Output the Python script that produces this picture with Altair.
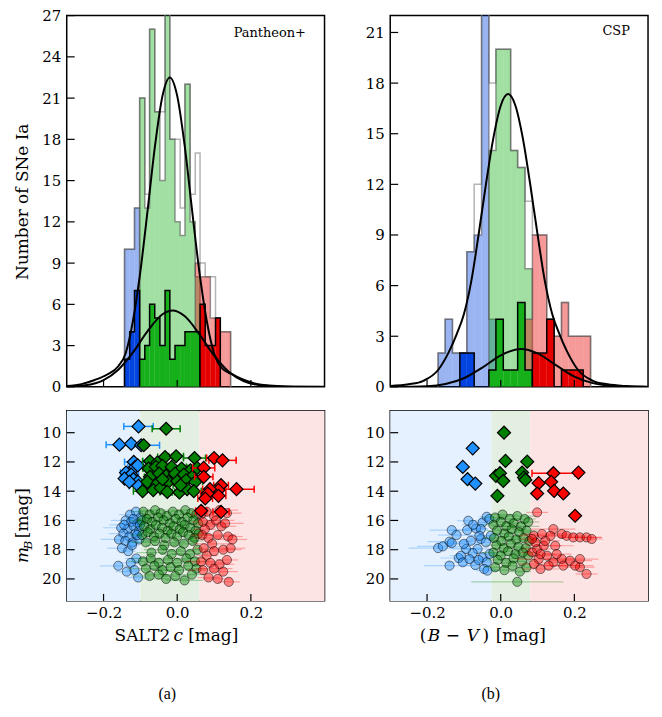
import altair as alt
import pandas as pd

SERIF = "DejaVu Serif"
CAPFONT = "Liberation Serif"

# ---------------- axes ----------------
X_DOMAIN = [-0.3, 0.4]
X_TICKS = [-0.2, 0.0, 0.2]
TOP_L_YDOM = [0, 27]
TOP_R_YDOM = [0, 22]
TOP_L_YTICKS = [0, 3, 6, 9, 12, 15, 18, 21, 24, 27]
TOP_R_YTICKS = [0, 3, 6, 9, 12, 15, 18, 21]
BOT_YDOM = [8.5, 21.5]
BOT_YTICKS = [10, 12, 14, 16, 18, 20]

# ---------------- histograms: Pantheon+ (SALT2 c) ----------------
L_EDGES = [-0.143, -0.129, -0.116, -0.102, -0.088, -0.075, -0.061, -0.047, -0.033, -0.020, -0.006,
           0.008, 0.021, 0.035, 0.049, 0.062, 0.076, 0.090, 0.104, 0.117, 0.131, 0.145]
L_TOTAL = [10, 10, 13, 21, 14, 26, 20, 20, 29, 18, 18, 13, 22, 14, 17, 9, 8, 8, 5, 4, 4]
L_BLUE_ALL = [10, 10, 13, 0, 0, 0, 0, 0, 0, 0, 0, 0, 0, 0, 0, 0, 0, 0, 0, 0, 0]
L_GREEN_ALL = [0, 0, 0, 21, 13, 26, 20, 15, 29, 18, 12, 11, 22, 12, 8, 0, 0, 0, 0, 0, 0]
L_RED_ALL = [0, 0, 0, 0, 0, 0, 0, 0, 0, 0, 0, 0, 0, 0, 9, 8, 8, 5, 5, 4, 4]
L_BLUE_CAL = [2, 4, 7, 0, 0, 0, 0, 0, 0, 0, 0, 0, 0, 0, 0, 0, 0, 0, 0, 0, 0]
L_GREEN_CAL = [0, 0, 0, 2, 3, 6, 5, 3, 7, 2, 3, 3, 4, 4, 4, 0, 0, 0, 0, 0, 0]
L_RED_CAL = [0, 0, 0, 0, 0, 0, 0, 0, 0, 0, 0, 0, 0, 0, 0, 6, 3, 3, 5, 0, 0]

# ---------------- histograms: CSP (B-V) ----------------
R_EDGES = [-0.170, -0.151, -0.131, -0.111, -0.092, -0.072, -0.052, -0.032, -0.013, 0.007, 0.027,
           0.046, 0.066, 0.086, 0.106, 0.125, 0.145, 0.165, 0.184, 0.204, 0.224, 0.244]
R_TOTAL = [2, 4, 2, 2, 8, 12, 24, 18, 20, 20, 14, 13, 11, 9, 9, 4, 3, 5, 3, 3, 3]
R_BLUE_ALL = [2, 4, 2, 2, 8, 9, 24, 4, 0, 0, 0, 0, 0, 0, 0, 0, 0, 0, 0, 0, 0]
R_GREEN_ALL = [0, 0, 0, 0, 0, 0, 0, 14, 20, 20, 14, 13, 7, 0, 0, 0, 0, 0, 0, 0, 0]
R_RED_ALL = [0, 0, 0, 0, 0, 0, 0, 0, 0, 0, 0, 0, 4, 9, 9, 4, 3, 5, 3, 3, 3]
R_BLUE_CAL = [0, 0, 0, 2, 2, 0, 0, 0, 0, 0, 0, 0, 0, 0, 0, 0, 0, 0, 0, 0, 0]
R_GREEN_CAL = [0, 0, 0, 0, 0, 0, 0, 1, 4, 1, 1, 5, 1, 0, 0, 0, 0, 0, 0, 0, 0]
R_RED_CAL = [0, 0, 0, 0, 0, 0, 0, 0, 0, 0, 0, 0, 0, 2, 2, 4, 0, 1, 1, 1, 0]

# ---------------- fitted curves ----------------
L_BIG_C = [-0.30, -0.26, -0.224, -0.19, -0.16, -0.14, -0.12, -0.10, -0.08, -0.06, -0.04, -0.02, 0.0,
           0.02, 0.04, 0.06, 0.08, 0.10, 0.12, 0.15, 0.175, 0.21, 0.25, 0.30, 0.40]
L_BIG_N = [0.06, 0.2, 0.5, 0.9, 1.5, 2.45, 4.83, 8.40, 12.93, 17.59, 21.16, 22.5, 21.16,
           17.59, 12.93, 8.40, 4.83, 2.45, 1.4, 0.9, 0.57, 0.25, 0.1, 0.03, 0.0]
L_SMALL_C = [-0.30, -0.25, -0.20, -0.16, -0.12, -0.08, -0.04, -0.013, 0.02, 0.06, 0.10, 0.14, 0.18, 0.22, 0.28, 0.40]
L_SMALL_N = [0.02, 0.11, 0.49, 1.25, 2.51, 4.07, 5.28, 5.55, 5.15, 3.84, 2.29, 1.10, 0.42, 0.13, 0.015, 0.0]
R_BIG_C = [-0.30, -0.25, -0.21, -0.17, -0.14, -0.12, -0.10, -0.08, -0.06, -0.04, -0.02, 0.0, 0.02,
           0.04, 0.06, 0.08, 0.10, 0.12, 0.14, 0.16, 0.18, 0.21, 0.25, 0.29, 0.34, 0.40]
R_BIG_N = [0.05, 0.15, 0.36, 1.0, 2.1, 3.1, 4.3, 6.25, 9.03, 12.02, 14.74, 16.66, 17.35,
           16.66, 14.74, 12.02, 9.03, 6.25, 4.3, 3.1, 2.1, 1.0, 0.36, 0.15, 0.05, 0.01]
R_SMALL_C = [-0.30, -0.20, -0.15, -0.10, -0.05, 0.0, 0.055, 0.10, 0.15, 0.20, 0.25, 0.30, 0.35, 0.40]
R_SMALL_N = [0.0, 0.04, 0.17, 0.51, 1.14, 1.87, 2.25, 1.99, 1.29, 0.61, 0.22, 0.06, 0.01, 0.0]

# ---------------- colour-cut bands ----------------
L_BANDS = [-0.3, -0.1, 0.06, 0.4]
R_BANDS = [-0.3, -0.025, 0.08, 0.4]

# ---------------- calibrator diamonds (c, m_B, err) ----------------
L_DIA_BLUE_C = [-0.105, -0.157, -0.125, -0.098, -0.118, -0.114, -0.107, -0.139, -0.125, -0.143, -0.119, -0.107, -0.105, -0.130]
L_DIA_BLUE_M = [9.57, 10.82, 10.75, 10.86, 12.0, 12.34, 12.23, 12.73, 12.86, 13.14, 13.18, 13.36, 13.64, 13.36]
L_DIA_BLUE_E = [0.040, 0.036, 0.010, 0.050, 0.025, 0.020, 0.015, 0.015, 0.020, 0.010, 0.015, 0.020, 0.025, 0.010]
L_DIA_GREEN_C = [-0.030, -0.091, -0.074, -0.054, -0.033, -0.003, 0.047, -0.078, -0.058, -0.040, -0.015, 0.012,
                 0.036, 0.054, -0.074, -0.049, -0.030, -0.006, 0.018, 0.040, -0.081, -0.054, -0.024, 0.0,
                 0.024, 0.049, -0.094, -0.065, -0.045, -0.027, 0.006, 0.027, 0.045, 0.009, -0.040]
L_DIA_GREEN_M = [9.73, 10.86, 11.95, 12.05, 11.66, 11.61, 11.73, 12.45, 12.34, 12.27, 12.34, 12.45,
                 12.57, 12.41, 13.02, 12.8, 12.95, 12.8, 12.86, 13.02, 13.36, 13.48, 13.36, 13.32,
                 13.25, 13.36, 14.0, 13.93, 13.77, 14.05, 14.09, 13.86, 14.0, 13.59, 13.18]
L_DIA_GREEN_E = [0.038, 0.010, 0.020, 0.015, 0.020, 0.020, 0.030, 0.015, 0.020, 0.015, 0.040, 0.020,
                 0.020, 0.025, 0.015, 0.020, 0.015, 0.020, 0.020, 0.020, 0.015, 0.020, 0.015, 0.020,
                 0.020, 0.020, 0.025, 0.020, 0.015, 0.020, 0.020, 0.020, 0.020, 0.020, 0.015]
L_DIA_RED_C = [0.100, 0.123, 0.072, 0.072, 0.119, 0.112, 0.089, 0.161, 0.083, 0.112, 0.076, 0.065, 0.119]
L_DIA_RED_M = [11.73, 11.89, 12.41, 13.02, 13.59, 13.93, 13.86, 13.86, 14.16, 14.32, 14.5, 15.34, 15.41]
L_DIA_RED_E = [0.020, 0.037, 0.030, 0.025, 0.020, 0.020, 0.020, 0.048, 0.020, 0.020, 0.020, 0.015, 0.022]

R_DIA_BLUE_C = [-0.076, -0.103, -0.090, -0.069]
R_DIA_BLUE_M = [11.07, 12.34, 13.18, 13.48]
R_DIA_BLUE_E = [0.0, 0.0, 0.0, 0.0]
R_DIA_GREEN_C = [0.009, 0.013, 0.072, -0.013, -0.002, 0.007, 0.058, 0.063, 0.067, -0.009]
R_DIA_GREEN_M = [10.0, 11.93, 11.98, 12.95, 12.77, 13.3, 12.73, 13.07, 13.23, 14.32]
R_DIA_GREEN_E = [0.0, 0.0, 0.0, 0.0, 0.0, 0.0, 0.0, 0.0, 0.0, 0.0]
R_DIA_RED_C = [0.143, 0.211, 0.103, 0.137, 0.099, 0.145, 0.170, 0.202]
R_DIA_RED_M = [12.77, 12.73, 13.45, 13.36, 14.16, 13.98, 14.16, 15.68]
R_DIA_RED_E = [0.058, 0.0, 0.0, 0.0, 0.0, 0.0, 0.0, 0.0]

# ---------------- Hubble-flow circles (c, m_B, err) ----------------
L_CIR_BLUE_C = [-0.128, -0.112, -0.100, -0.140, -0.125, -0.108, -0.152, -0.135, -0.118, -0.104, -0.146, -0.130,
                -0.113, -0.158, -0.141, -0.121, -0.103, -0.150, -0.133, -0.111, -0.126, -0.160, -0.137, -0.116,
                -0.106, -0.119, -0.101, -0.109, -0.144, -0.123]
L_CIR_BLUE_M = [15.6, 15.4, 15.8, 16.0, 16.1, 16.2, 16.5, 16.6, 16.4, 16.7, 16.9, 17.1,
                16.9, 17.3, 17.4, 17.5, 17.3, 17.9, 18.1, 18.6, 18.9, 19.1, 19.5, 19.4,
                19.9, 15.9, 16.3, 17.0, 16.3, 17.7]
L_CIR_BLUE_E = [0.03, 0.02, 0.03, 0.04, 0.02, 0.03, 0.05, 0.03, 0.02, 0.03, 0.04, 0.03,
                0.02, 0.05, 0.03, 0.02, 0.03, 0.04, 0.02, 0.03, 0.03, 0.05, 0.03, 0.02,
                0.03, 0.02, 0.02, 0.03, 0.04, 0.02]
L_CIR_GREEN_C = [-0.092, -0.075, -0.060, -0.045, -0.028, -0.012, 0.005, 0.022, 0.038, 0.052,
                 -0.097, -0.082, -0.068, -0.052, -0.037, -0.020, -0.004, 0.012, 0.028, 0.044, 0.057,
                 -0.090, -0.073, -0.058, -0.041, -0.026, -0.010, 0.007, 0.020, 0.035, 0.050,
                 -0.095, -0.080, -0.063, -0.048, -0.032, -0.016, 0.000, 0.016, 0.031, 0.047, 0.058,
                 -0.085, -0.060, -0.035, -0.008, 0.018, 0.042,
                 -0.070, -0.040, -0.015, 0.010, 0.035, 0.055,
                 -0.093, -0.072, -0.050, -0.025, 0.000, 0.025, 0.048,
                 -0.085, -0.062, -0.040, -0.018, 0.005, 0.030, 0.052,
                 -0.075, -0.050, -0.030, -0.005, 0.020, 0.040]
L_CIR_GREEN_M = [15.4, 15.6, 15.3, 15.5, 15.7, 15.4, 15.6, 15.3, 15.5, 15.6,
                 16.0, 15.9, 16.1, 15.8, 16.0, 16.2, 15.9, 16.1, 15.8, 16.0, 16.2,
                 16.4, 16.6, 16.3, 16.5, 16.7, 16.4, 16.6, 16.3, 16.5, 16.7,
                 17.0, 16.8, 17.1, 16.9, 17.2, 16.9, 17.1, 16.8, 17.0, 17.2, 16.9,
                 17.5, 17.4, 17.7, 17.5, 17.6, 17.4,
                 18.2, 18.0, 18.3, 18.1, 18.3, 18.0,
                 18.8, 18.6, 18.9, 18.7, 18.9, 18.6, 18.8,
                 19.3, 19.1, 19.4, 19.2, 19.4, 19.1, 19.3,
                 19.8, 19.7, 20.0, 19.8, 20.1, 19.7]
L_CIR_GREEN_E = [0.03, 0.02, 0.04, 0.03, 0.02, 0.03, 0.02, 0.04, 0.03, 0.02,
                 0.03, 0.02, 0.03, 0.04, 0.02, 0.03, 0.02, 0.03, 0.03, 0.02, 0.03,
                 0.02, 0.03, 0.02, 0.03, 0.04, 0.02, 0.03, 0.02, 0.03, 0.02,
                 0.03, 0.02, 0.03, 0.02, 0.03, 0.02, 0.03, 0.04, 0.02, 0.03, 0.02,
                 0.04, 0.03, 0.05, 0.03, 0.04, 0.03,
                 0.04, 0.05, 0.03, 0.04, 0.05, 0.03,
                 0.04, 0.05, 0.04, 0.06, 0.04, 0.05, 0.04,
                 0.05, 0.04, 0.05, 0.04, 0.05, 0.04, 0.03,
                 0.05, 0.04, 0.06, 0.04, 0.05, 0.04]
L_CIR_RED_C = [0.065, 0.080, 0.100, 0.115, 0.135, 0.070, 0.090, 0.075, 0.105, 0.120, 0.068, 0.085, 0.110,
               0.138, 0.095, 0.072, 0.100, 0.125, 0.145, 0.080, 0.065, 0.090, 0.115, 0.135, 0.070,
               0.100, 0.125, 0.085, 0.110, 0.140, 0.150, 0.130]
L_CIR_RED_M = [15.6, 15.4, 15.7, 15.3, 15.5, 16.1, 16.3, 16.6, 16.0, 16.4, 17.0, 17.2, 17.0,
               17.1, 17.6, 17.9, 18.1, 18.0, 17.9, 18.4, 18.8, 18.9, 19.0, 18.7, 19.4,
               19.3, 19.5, 19.9, 20.0, 20.2, 17.3, 16.2]
L_CIR_RED_E = [0.03, 0.04, 0.03, 0.05, 0.04, 0.03, 0.04, 0.03, 0.05, 0.04, 0.03, 0.04, 0.05,
               0.04, 0.05, 0.03, 0.04, 0.05, 0.04, 0.03, 0.04, 0.05, 0.04, 0.03, 0.04,
               0.05, 0.04, 0.03, 0.04, 0.03, 0.04, 0.05]

R_CIR_BLUE_C = [-0.088, -0.133, -0.170, -0.157, -0.139, -0.133, -0.114, -0.108, -0.139, -0.091, -0.067, -0.049,
                -0.038, -0.031, -0.054, -0.063, -0.076, -0.049, -0.038, -0.069, -0.045, -0.036, -0.081, -0.094,
                -0.103, -0.054, -0.027, -0.040, -0.058, -0.085, -0.120, -0.075, -0.100, -0.060, -0.030]
R_CIR_BLUE_M = [16.02, 16.66, 17.89, 17.77, 17.45, 17.55, 18.57, 18.41, 19.09, 16.66, 16.55, 16.14,
                15.75, 15.91, 17.27, 17.95, 18.23, 18.52, 18.86, 19.05, 19.32, 19.43, 17.39, 17.95,
                18.86, 16.59, 17.05, 17.5, 17.05, 18.64, 17.0, 16.3, 17.6, 18.7, 18.3]
R_CIR_BLUE_E = [0.03, 0.06, 0.08, 0.07, 0.06, 0.04, 0.05, 0.03, 0.07, 0.04, 0.03, 0.03,
                0.02, 0.03, 0.03, 0.04, 0.03, 0.03, 0.03, 0.04, 0.03, 0.03, 0.03, 0.04,
                0.05, 0.02, 0.03, 0.03, 0.03, 0.04, 0.05, 0.03, 0.05, 0.03, 0.02]
R_CIR_GREEN_C = [-0.015, 0.005, 0.025, 0.045, 0.065, -0.020, 0.000, 0.015, 0.035, 0.055, 0.075,
                 -0.010, 0.010, 0.030, 0.050, 0.070, -0.018, 0.002, 0.022, 0.042, 0.062, 0.078,
                 -0.012, 0.008, 0.028, 0.048, 0.068, -0.020, 0.000, 0.020, 0.040, 0.060, 0.075,
                 -0.008, 0.015, 0.035, 0.058, -0.015, 0.010, 0.032, 0.052, 0.070, 0.045]
R_CIR_GREEN_M = [15.8, 15.6, 15.9, 15.7, 15.9, 16.3, 16.1, 16.4, 16.2, 16.4, 16.1,
                 16.7, 16.9, 16.6, 16.8, 16.7, 17.2, 17.4, 17.1, 17.3, 17.2, 17.4,
                 17.7, 17.9, 17.6, 17.8, 17.9, 18.2, 18.4, 18.1, 18.3, 18.2, 18.4,
                 18.7, 18.9, 18.6, 18.8, 19.2, 19.4, 19.1, 19.5, 19.2, 20.2]
R_CIR_GREEN_E = [0.03, 0.04, 0.03, 0.05, 0.03, 0.03, 0.03, 0.04, 0.03, 0.05, 0.03,
                 0.03, 0.03, 0.04, 0.03, 0.03, 0.03, 0.03, 0.03, 0.04, 0.03, 0.03,
                 0.03, 0.03, 0.04, 0.03, 0.03, 0.03, 0.03, 0.03, 0.04, 0.03, 0.03,
                 0.03, 0.03, 0.03, 0.04, 0.03, 0.03, 0.03, 0.03, 0.03, 0.125]
R_CIR_RED_C = [0.099, 0.090, 0.112, 0.143, 0.166, 0.179, 0.197, 0.215, 0.233, 0.247, 0.085, 0.099, 0.117,
               0.126, 0.103, 0.143, 0.166, 0.188, 0.215, 0.215, 0.233, 0.170, 0.130, 0.108, 0.090,
               0.094, 0.121, 0.148, 0.152, 0.202, 0.135, 0.085, 0.108]
R_CIR_RED_M = [15.45, 17.05, 16.93, 16.59, 16.93, 17.05, 17.16, 17.16, 17.16, 17.27, 18.18, 17.95, 17.73,
               18.41, 18.64, 18.86, 18.64, 18.75, 18.64, 19.2, 19.66, 19.09, 19.09, 19.32, 18.98,
               17.5, 17.39, 17.73, 18.3, 19.09, 17.05, 17.27, 18.3]
R_CIR_RED_E = [0.03, 0.04, 0.05, 0.06, 0.04, 0.05, 0.04, 0.06, 0.04, 0.03, 0.03, 0.04, 0.05,
               0.04, 0.06, 0.05, 0.04, 0.06, 0.05, 0.04, 0.03, 0.05, 0.04, 0.05, 0.04,
               0.03, 0.04, 0.05, 0.04, 0.05, 0.04, 0.03, 0.04]

# ---------------- colours ----------------
XK_BLUE, XK_GREEN, XK_RED = "#0343df", "#15b01a", "#e50000"
SC_BLUE, SC_GREEN, SC_RED = "#1e90ff", "#008000", "#ff0000"
BAND_COLS = ["#e5f1fe", "#e3efe1", "#fde4e4"]

W, H_TOP, H_BOT = 259, 373, 191


def make_axes(yticks, xlabels, ytitle):
    xa = alt.Axis(values=X_TICKS, labels=xlabels, ticks=False, domain=False, grid=False, title=None,
                  format=".1f", labelFont=SERIF, labelFontSize=15, labelColor="black", labelPadding=5)
    ya = alt.Axis(values=yticks, ticks=False, domain=False, grid=False, title=ytitle,
                  labelFont=SERIF, labelFontSize=15, labelColor="black", labelPadding=6,
                  titleFont=SERIF, titleFontSize=17, titleFontWeight="normal", titleColor="black",
                  titlePadding=10)
    return xa, ya


def step_points(edges, heights):
    idx = [i for i, h in enumerate(heights) if h > 0]
    i0, i1 = idx[0], idx[-1]
    pts = [(edges[i0], 0)]
    for i in range(i0, i1 + 1):
        pts.append((edges[i], heights[i]))
        pts.append((edges[i + 1], heights[i]))
    pts.append((edges[i1 + 1], 0))
    df = pd.DataFrame(pts, columns=["x", "y"])
    df["o"] = range(len(df))
    return df


def hist(edges, heights, A, fill=None, fill_op=1.0, edge="black", edge_w=1.5, edge_op=1.0):
    xs, xa, ys, ya = A
    out = []
    if fill is not None:
        rows = [dict(x0=edges[i], x1=edges[i + 1], h=heights[i], b=0)
                for i in range(len(heights)) if heights[i] > 0]
        df = pd.DataFrame(rows)
        out.append(alt.Chart(df).mark_rect(color=fill, opacity=fill_op, clip=True, strokeWidth=0).encode(
            x=alt.X("x0:Q", scale=xs, axis=xa), x2="x1:Q",
            y=alt.Y("h:Q", scale=ys, axis=ya), y2="b:Q"))
    out.append(alt.Chart(step_points(edges, heights)).mark_line(
        color=edge, strokeWidth=edge_w, opacity=edge_op, clip=True).encode(
        x=alt.X("x:Q", scale=xs, axis=xa), y=alt.Y("y:Q", scale=ys, axis=ya), order="o:Q"))
    return out


def curve(cs, ns, A):
    xs, xa, ys, ya = A
    df = pd.DataFrame({"c": cs, "n": ns})
    return alt.Chart(df).mark_line(color="black", strokeWidth=2, interpolate="monotone", clip=True).encode(
        x=alt.X("c:Q", scale=xs, axis=xa), y=alt.Y("n:Q", scale=ys, axis=ya))


def inward_ticks(yticks, h, A):
    xs, xa, ys, ya = A
    xt = alt.Chart(pd.DataFrame({"v": X_TICKS})).mark_rule(color="black", strokeWidth=1.2).encode(
        x=alt.X("v:Q", scale=xs, axis=xa), y=alt.value(h), y2=alt.value(h - 7))
    yt = alt.Chart(pd.DataFrame({"v": yticks})).mark_rule(color="black", strokeWidth=1.2).encode(
        y=alt.Y("v:Q", scale=ys, axis=ya), x=alt.value(0), x2=alt.value(8))
    return [xt, yt]


def label(text, x, y, size=13, font=SERIF, align="center", style="normal", angle=0):
    return alt.Chart(pd.DataFrame({"t": [text]})).mark_text(
        font=font, fontSize=size, align=align, baseline="middle", fontStyle=style, color="black", angle=angle
    ).encode(text="t:N", x=alt.value(x), y=alt.value(y))


def top_panel(edges, total, alls, cals, big, small, ydom, yticks, ytitle, tag, tagx, tagy):
    xs = alt.Scale(domain=X_DOMAIN, nice=False, zero=False)
    ys = alt.Scale(domain=ydom, nice=False, zero=False)
    xa, ya = make_axes(yticks, False, ytitle)
    A = (xs, xa, ys, ya)
    layers = []
    layers += hist(edges, total, A, fill=None, edge="#b4b4b4", edge_w=1.5)
    for h, col in zip(alls, [XK_BLUE, XK_GREEN, XK_RED]):
        layers += hist(edges, h, A, fill=col, fill_op=0.4, edge="#555555", edge_w=1.5, edge_op=0.6)
    for h, col in zip(cals, [XK_BLUE, XK_GREEN, XK_RED]):
        layers += hist(edges, h, A, fill=col, fill_op=1.0, edge="black", edge_w=1.5)
    layers.append(curve(big[0], big[1], A))
    layers.append(curve(small[0], small[1], A))
    layers += inward_ticks(yticks, H_TOP, A)
    layers.append(label(tag, tagx, tagy, size=13))
    return alt.layer(*layers).properties(width=W, height=H_TOP)


def scatter_layers(cs, ms, es, col, A, kind):
    xs, xa, ys, ya = A
    df = pd.DataFrame({"c": cs, "m": ms, "e": es})
    df["lo"] = df["c"] - df["e"]
    df["hi"] = df["c"] + df["e"]
    dfe = df[df["e"] > 0]
    out = []
    if kind == "circle":
        out.append(alt.Chart(dfe).mark_rule(color=col, strokeWidth=1.2, opacity=0.3).encode(
            x=alt.X("lo:Q", scale=xs, axis=xa), x2="hi:Q", y=alt.Y("m:Q", scale=ys, axis=ya)))
        out.append(alt.Chart(df).mark_point(shape="circle", filled=True, size=85, fill=col, opacity=1,
                                            fillOpacity=0.42, stroke="black", strokeOpacity=0.5,
                                            strokeWidth=1).encode(
            x=alt.X("c:Q", scale=xs, axis=xa), y=alt.Y("m:Q", scale=ys, axis=ya)))
    else:
        out.append(alt.Chart(dfe).mark_rule(color=col, strokeWidth=1.5).encode(
            x=alt.X("lo:Q", scale=xs, axis=xa), x2="hi:Q", y=alt.Y("m:Q", scale=ys, axis=ya)))
        for f in ["lo", "hi"]:
            out.append(alt.Chart(dfe).mark_rule(color=col, strokeWidth=1.5, yOffset=-3.5, y2Offset=3.5).encode(
                x=alt.X(f + ":Q", scale=xs, axis=xa), y=alt.Y("m:Q", scale=ys, axis=ya), y2="m:Q"))
        out.append(alt.Chart(df).mark_point(shape="diamond", filled=True, size=170, fill=col, opacity=1,
                                            stroke="black", strokeWidth=1.2).encode(
            x=alt.X("c:Q", scale=xs, axis=xa), y=alt.Y("m:Q", scale=ys, axis=ya)))
    return out


def bottom_panel(bands, circles, diamonds, with_title, xtitle_parts, caption):
    xs = alt.Scale(domain=X_DOMAIN, nice=False, zero=False)
    ys = alt.Scale(domain=BOT_YDOM, nice=False, zero=False, reverse=True)
    xa, ya = make_axes(BOT_YTICKS, True, None)
    A = (xs, xa, ys, ya)
    layers = []
    bdf = pd.DataFrame({"a": bands[:-1], "b": bands[1:], "g": ["blue", "green", "red"]})
    layers.append(alt.Chart(bdf).mark_rect(opacity=1).encode(
        x=alt.X("a:Q", scale=xs, axis=xa), x2="b:Q", y=alt.value(0), y2=alt.value(H_BOT),
        color=alt.Color("g:N", scale=alt.Scale(domain=["blue", "green", "red"], range=BAND_COLS), legend=None)))
    for (cs, ms, es), col in zip(circles, [SC_BLUE, SC_GREEN, SC_RED]):
        layers += scatter_layers(cs, ms, es, col, A, "circle")
    for (cs, ms, es), col in zip(diamonds, [SC_BLUE, SC_GREEN, SC_RED]):
        layers += scatter_layers(cs, ms, es, col, A, "diamond")
    layers += inward_ticks(BOT_YTICKS, H_BOT, A)
    for txt, x, style, align in xtitle_parts:
        layers.append(label(txt, x, 226, size=17, align=align, style=style))
    if with_title:
        layers.append(label("m", -44, 145, size=17, style="italic", angle=270))
        layers.append(label("B", -39, 135, size=12, style="italic", angle=270))
        layers.append(label("[mag]", -44, 128, size=17, align="left", angle=270))
    layers.append(label(caption, 101, 285, size=16, font=CAPFONT))
    return alt.layer(*layers).properties(width=W, height=H_BOT)


topL = top_panel(L_EDGES, L_TOTAL, [L_BLUE_ALL, L_GREEN_ALL, L_RED_ALL], [L_BLUE_CAL, L_GREEN_CAL, L_RED_CAL],
                 (L_BIG_C, L_BIG_N), (L_SMALL_C, L_SMALL_N), TOP_L_YDOM, TOP_L_YTICKS, "Number of SNe Ia",
                 "Pantheon+", 204, 18)
topR = top_panel(R_EDGES, R_TOTAL, [R_BLUE_ALL, R_GREEN_ALL, R_RED_ALL], [R_BLUE_CAL, R_GREEN_CAL, R_RED_CAL],
                 (R_BIG_C, R_BIG_N), (R_SMALL_C, R_SMALL_N), TOP_R_YDOM, TOP_R_YTICKS, None,
                 "CSP", 227, 15)

botL = bottom_panel(L_BANDS,
                    [(L_CIR_BLUE_C, L_CIR_BLUE_M, L_CIR_BLUE_E), (L_CIR_GREEN_C, L_CIR_GREEN_M, L_CIR_GREEN_E),
                     (L_CIR_RED_C, L_CIR_RED_M, L_CIR_RED_E)],
                    [(L_DIA_BLUE_C, L_DIA_BLUE_M, L_DIA_BLUE_E), (L_DIA_GREEN_C, L_DIA_GREEN_M, L_DIA_GREEN_E),
                     (L_DIA_RED_C, L_DIA_RED_M, L_DIA_RED_E)],
                    True,
                    [("SALT2", 104, "normal", "right"), ("c", 112, "italic", "center"), ("[mag]", 122, "normal", "left")],
                    "(a)")
botR = bottom_panel(R_BANDS,
                    [(R_CIR_BLUE_C, R_CIR_BLUE_M, R_CIR_BLUE_E), (R_CIR_GREEN_C, R_CIR_GREEN_M, R_CIR_GREEN_E),
                     (R_CIR_RED_C, R_CIR_RED_M, R_CIR_RED_E)],
                    [(R_DIA_BLUE_C, R_DIA_BLUE_M, R_DIA_BLUE_E), (R_DIA_GREEN_C, R_DIA_GREEN_M, R_DIA_GREEN_E),
                     (R_DIA_RED_C, R_DIA_RED_M, R_DIA_RED_E)],
                    False,
                    [("(", 33, "normal", "center"), ("B", 44, "italic", "center"), ("\u2212", 63, "normal", "center"),
                     ("V", 83, "italic", "center"), (")", 96, "normal", "center"), ("[mag]", 106, "normal", "left")],
                    "(b)")

chart = alt.concat(topL, topR, botL, botR, columns=2, spacing={"row": 24, "column": 66}, bounds="flush").properties(
    padding={"left": 5, "top": -2, "right": 5, "bottom": 5}, background="white"
).configure_view(stroke="black", strokeWidth=1.5)

chart.save("out.html", embed_options={"renderer": "svg", "actions": False})
